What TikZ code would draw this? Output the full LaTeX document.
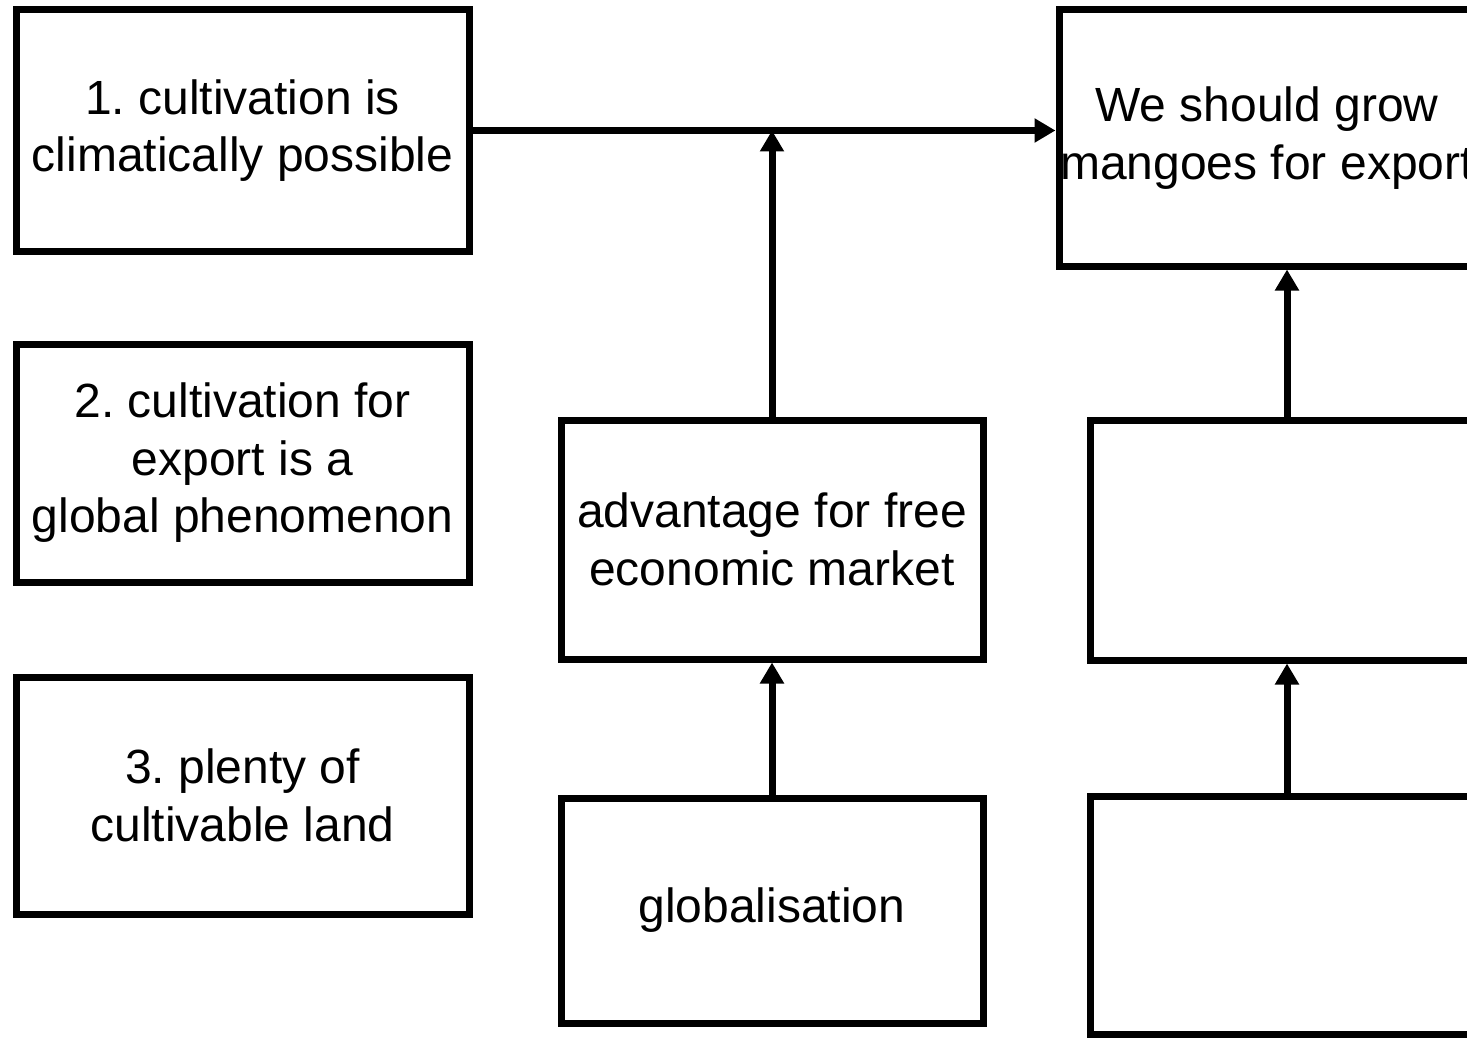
\documentclass[tikz,border=0pt]{standalone}
\usepackage{fontspec}
\setmainfont{Liberation Sans}
\usetikzlibrary{arrows.meta}
\begin{document}
\frenchspacing
\begin{tikzpicture}[x=1pt,y=1pt,
  box/.style={draw=black,line width=7pt,rectangle,inner sep=0pt,align=center,
    font=\fontsize{48pt}{57.5pt}\selectfont},
  link/.style={line width=7pt,-{Triangle[length=21pt,width=23pt]}}]
\useasboundingbox (0,0) rectangle (1467,-1038);
\clip (0,0) rectangle (1467,-1038);
\fill[white] (0,0) rectangle (1467,-1038);

% premises on the left
\node[box,minimum width=453pt,minimum height=241pt] (p1) at (242.5,-130.5)
  {1. cultivation is\\climatically possible};
\node[box,minimum width=453pt,minimum height=238pt] (p2) at (242.5,-463)
  {2. cultivation for\\export is a\\global phenomenon};
\node[box,minimum width=453pt,minimum height=237pt] (p3) at (242.5,-795.5)
  {3. plenty of\\cultivable land};

% middle column
\node[box,minimum width=422pt,minimum height=239pt] (adv) at (772,-539.5)
  {advantage for free\\economic market};
\node[box,minimum width=422pt,minimum height=225pt] (glob) at (772,-910.5)
  {globalisation};

% conclusion and right column
\node[box,minimum width=416pt,minimum height=256pt] (conc) at (1267,-138)
  {We should grow\\mangoes for export};
\node[box,minimum width=422pt,minimum height=240pt] (r1) at (1301,-540) {};
\node[box,minimum width=422pt,minimum height=238pt] (r2) at (1301,-915) {};

% connectors
\coordinate (rx) at (1287,0);
\draw[link] (p1.east) -- (p1.east -| conc.west);
\coordinate (j) at (adv.north |- p1.east);
\draw[link] (adv.north) -- (j);
\draw[link] (glob.north) -- (adv.south);
\draw[link] (r1.north -| rx) -- (conc.south -| rx);
\draw[link] (r2.north -| rx) -- (r1.south -| rx);
\end{tikzpicture}
\end{document}
